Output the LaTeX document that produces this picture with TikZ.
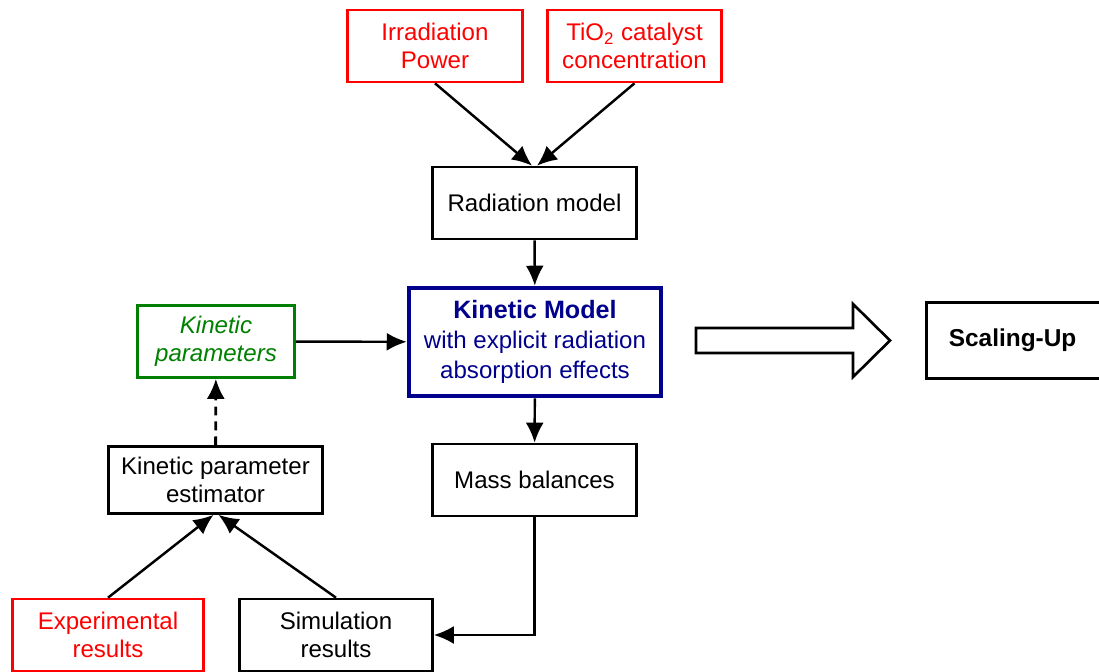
\documentclass[tikz,border=0pt]{standalone}
\usepackage{fontspec}
\setmainfont{Liberation Sans}
\usetikzlibrary{arrows.meta}
\definecolor{kinblue}{RGB}{0,0,140}
\definecolor{pargreen}{RGB}{0,128,0}
\tikzset{
    box/.style={draw, line width=1.5pt, minimum height=1.44cm, inner sep=0pt,
        align=center, font=\fontsize{13.7}{16}\selectfont},
    redbox/.style={box, draw=red, text=red},
    flow/.style={line width=1.4pt, -{Latex[length=0.4cm, width=0.36cm]}}
}
\begin{document}
\begin{tikzpicture}[x=0.02cm, y=-0.02cm]
        \useasboundingbox (0,0) rectangle (1099,672);

        \node[redbox, minimum width=3.5cm] (irr) at (435, 46) {Irradiation\\Power};
        \node[redbox, minimum width=3.48cm] (tio) at (634.5, 46) {TiO\textsubscript{2} catalyst\\concentration};
        \node[box, minimum width=4.08cm] (rad) at (534.5, 203) {Radiation model};
        \node[box, draw=kinblue, text=kinblue, line width=2.6pt, minimum width=5.04cm, minimum height=2.16cm,
            font=\fontsize{13.7}{17}\selectfont] (kin) at (535, 342)
            {{\fontsize{14.3}{17}\selectfont\bfseries Kinetic Model}\\with explicit radiation\\absorption effects};
        \node[box, draw=pargreen, text=pargreen, minimum width=3.14cm, font=\fontsize{13.7}{16}\selectfont\itshape] (par) at (216, 341.5) {Kinetic\\parameters};
        \node[box, minimum width=4.28cm, minimum height=1.34cm] (est) at (215.5, 480) {Kinetic parameter\\estimator};
        \node[box, minimum width=4.08cm] (mass) at (534.5, 480) {Mass balances};
        \node[redbox, minimum width=3.82cm] (exp) at (108, 635) {Experimental\\results};
        \node[box, minimum width=3.86cm] (sim) at (336, 635) {Simulation\\results};
        \node[box, anchor=west, minimum width=3.8cm, minimum height=1.52cm, text width=2.9cm, align=left,
            inner xsep=0.42cm, font=\fontsize{13.9}{16}\selectfont\bfseries] (scal) at (925, 340.5) {Scaling-Up};

        % hollow arrow towards scaling-up
        \draw[line width=1.5pt] (696,328) -- (853,328) -- (853,304) -- (890,340.5)
            -- (853,377) -- (853,353) -- (696,353) -- cycle;

        \draw[flow] (irr.south) -- ([xshift=-0.05cm]rad.north);
        \draw[flow] (tio.south) -- ([xshift=0.05cm]rad.north);
        \draw[flow] (rad) -- (kin);
        \draw[flow] (par) -- (kin);
        \draw[flow] (kin) -- (mass);
        \draw[flow] (mass.south) |- (sim.east);
        \draw[flow, dash pattern=on 5pt off 3.5pt, line width=1.6pt] (est) -- (par);
        \draw[flow] (exp.north) -- ([xshift=-0.04cm]est.south);
        \draw[flow] (sim.north) -- ([xshift=0.06cm]est.south);

    \end{tikzpicture}
\end{document}
